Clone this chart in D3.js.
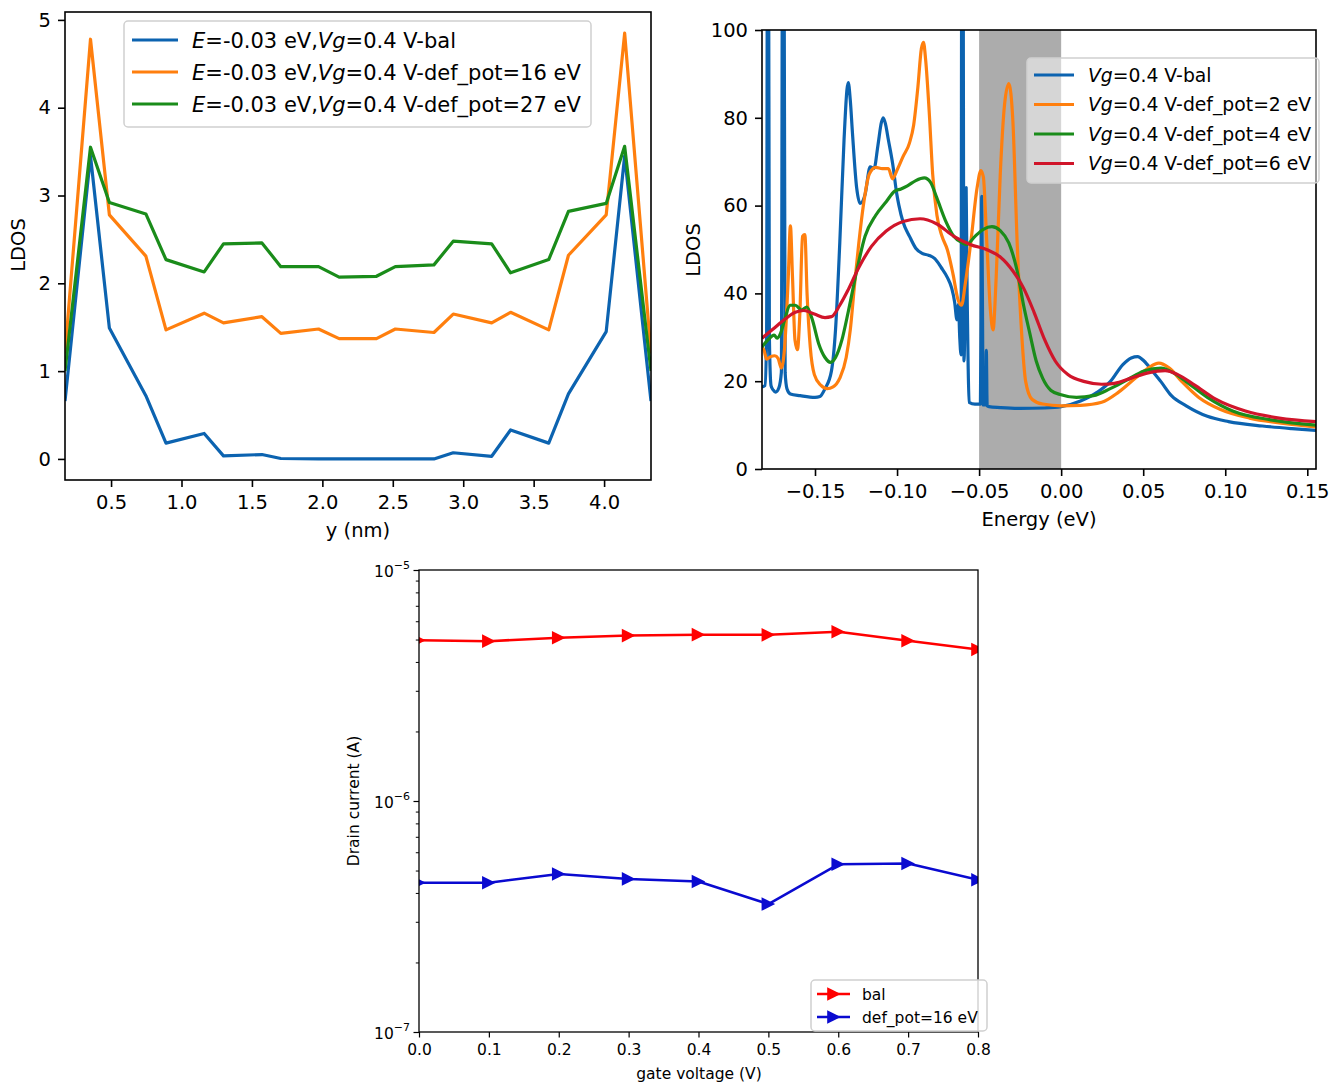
<!DOCTYPE html>
<html>
<head>
<meta charset="utf-8">
<script src="https://cdn.jsdelivr.net/npm/d3@7"></script>
<style>
  body { margin: 0; background: #fff; }
  svg text { font-family: "DejaVu Sans", sans-serif; fill: #000; }
</style>
</head>
<body>
<svg id="fig" width="1341" height="1084"></svg>
<script>
// ---- top left: LDOS across the ribbon width ----
var yPos = [0.173, 0.354, 0.488, 0.747, 0.890, 1.161, 1.298, 1.571, 1.705, 1.973, 2.119,
            2.384, 2.518, 2.792, 2.929, 3.202, 3.336, 3.607, 3.747, 4.015, 4.146, 4.333];
var ldosBal = [0.66, 3.45, 1.49, 0.72, 0.18, 0.29, 0.035, 0.05, 0.005, 0.0, 0.0,
               0.0, 0.0, 0.0, 0.07, 0.03, 0.33, 0.18, 0.74, 1.45, 3.45, 0.66];
var ldosDef16 = [1.2, 4.78, 2.78, 2.31, 1.47, 1.66, 1.55, 1.62, 1.43, 1.48, 1.37,
                 1.37, 1.48, 1.44, 1.65, 1.55, 1.67, 1.47, 2.32, 2.78, 4.85, 1.2];
var ldosDef27 = [1.0, 3.55, 2.92, 2.79, 2.27, 2.13, 2.45, 2.46, 2.19, 2.19, 2.07,
                 2.08, 2.19, 2.21, 2.48, 2.45, 2.12, 2.27, 2.82, 2.91, 3.56, 1.0];
var tlLabels = ['-0.03 eV,|0.4 V-bal', '-0.03 eV,|0.4 V-def_pot=16 eV', '-0.03 eV,|0.4 V-def_pot=27 eV'];
var tlXTicks = [0.5, 1.0, 1.5, 2.0, 2.5, 3.0, 3.5, 4.0];
var tlYTicks = [0, 1, 2, 3, 4, 5];

// ---- top right: LDOS vs energy, [E (eV), LDOS] ----
var specBal = [[-0.1823, 18.7], [-0.1805, 19.0], [-0.1795, 30], [-0.1789, 140], [-0.1784, 140],
  [-0.1778, 30], [-0.1768, 19], [-0.1755, 18.0], [-0.1740, 17.5], [-0.1720, 18.5], [-0.1705, 22],
  [-0.1697, 140], [-0.1690, 140], [-0.1682, 22], [-0.1671, 18.3], [-0.1650, 17.1], [-0.1590, 16.7],
  [-0.1500, 16.3], [-0.1470, 16.5], [-0.1439, 18.3], [-0.1400, 22.3], [-0.1375, 31.7], [-0.1349, 51.5],
  [-0.1323, 75], [-0.1305, 86.5], [-0.1297, 88], [-0.1285, 84], [-0.1272, 76.7], [-0.1246, 64],
  [-0.1225, 60.5], [-0.1195, 62.5], [-0.1164, 68.8], [-0.1140, 68.5], [-0.1117, 73.6], [-0.1095, 79],
  [-0.1084, 80], [-0.1070, 78.5], [-0.1053, 75], [-0.1027, 69.6], [-0.1001, 62.5], [-0.0989, 60.1],
  [-0.0963, 56.2], [-0.0924, 53], [-0.0886, 50.3], [-0.0847, 49.1], [-0.0808, 48.7], [-0.0770, 47.9],
  [-0.0731, 45.9], [-0.0693, 43.6], [-0.0667, 41.2], [-0.0649, 38], [-0.0635, 34], [-0.0626, 37.5],
  [-0.0618, 30], [-0.0610, 26], [-0.0605, 140], [-0.0599, 140], [-0.0592, 24.6], [-0.0585, 40],
  [-0.0579, 64.1], [-0.0573, 40], [-0.0567, 24], [-0.0561, 15.2], [-0.0525, 14.8], [-0.0492, 14.8],
  [-0.0487, 40], [-0.0484, 62.1], [-0.0480, 40], [-0.0475, 14.6], [-0.0461, 14.6], [-0.0456, 27],
  [-0.0451, 14.4], [-0.0440, 14.2], [-0.0371, 14.0], [-0.0250, 13.8], [-0.0100, 13.9], [0.0000, 14.2],
  [0.0118, 15.5], [0.0221, 17.5], [0.0299, 19.9], [0.0376, 23.8], [0.0427, 25.3], [0.0466, 25.6],
  [0.0505, 24.6], [0.0556, 22.3], [0.0608, 19.9], [0.0672, 16.7], [0.0762, 14.4], [0.0891, 12.0],
  [0.1020, 10.8], [0.1226, 9.8], [0.1406, 9.2], [0.1553, 8.8]];
var specDef2 = [[-0.1823, 27.8], [-0.1810, 27.0], [-0.1795, 25.0], [-0.1770, 25.6], [-0.1745, 25.8],
  [-0.1725, 25.2], [-0.1705, 23], [-0.1685, 27.8], [-0.1663, 43.6], [-0.1650, 55.4], [-0.1637, 43.6],
  [-0.1622, 29.4], [-0.1607, 27.2], [-0.1592, 35.7], [-0.1576, 53], [-0.1562, 53.4], [-0.1548, 39.6],
  [-0.1529, 27.8], [-0.1504, 21.5], [-0.1465, 19.1], [-0.1426, 18.3], [-0.1390, 18.7], [-0.1349, 20.7],
  [-0.1310, 25.4], [-0.1285, 31.7], [-0.1259, 42], [-0.1233, 51.5], [-0.1202, 60.9], [-0.1169, 67.2],
  [-0.1130, 68.7], [-0.1090, 68.4], [-0.1053, 68.4], [-0.1027, 66.1], [-0.1001, 68], [-0.0963, 71.2],
  [-0.0924, 74.3], [-0.0899, 78.3], [-0.0873, 87], [-0.0852, 95.7], [-0.0839, 97.2], [-0.0826, 93.3],
  [-0.0803, 80.7], [-0.0783, 67.2], [-0.0757, 57.8], [-0.0726, 53], [-0.0693, 49.9], [-0.0659, 44.4],
  [-0.0628, 38.5], [-0.0607, 37.3], [-0.0585, 42], [-0.0551, 51.5], [-0.0512, 64.1], [-0.0489, 68],
  [-0.0474, 66.5], [-0.0453, 51.5], [-0.0430, 35.7], [-0.0415, 31.7], [-0.0396, 43.6], [-0.0371, 67.2],
  [-0.0345, 83], [-0.0319, 87.8], [-0.0294, 79.1], [-0.0268, 51.5], [-0.0242, 31.7], [-0.0216, 19.9],
  [-0.0178, 15.9], [-0.0113, 14.8], [0.0000, 14.4], [0.0118, 14.5], [0.0247, 15.2], [0.0350, 17.5],
  [0.0453, 20.7], [0.0530, 23], [0.0595, 24.1], [0.0659, 23], [0.0736, 19.9], [0.0839, 16.3],
  [0.0968, 13.6], [0.1148, 11.6], [0.1354, 10.4], [0.1553, 9.6]];
var specDef4 = [[-0.1823, 27.8], [-0.1787, 29.4], [-0.1749, 30.5], [-0.1731, 29.8], [-0.1710, 30.9],
  [-0.1684, 34.1], [-0.1653, 37.3], [-0.1620, 37.3], [-0.1581, 36.2], [-0.1550, 36.9], [-0.1517, 34.1],
  [-0.1478, 28.6], [-0.1439, 25.4], [-0.1406, 24.3], [-0.1375, 25.4], [-0.1336, 29.4], [-0.1298, 35.7],
  [-0.1246, 45.1], [-0.1195, 53], [-0.1130, 57.8], [-0.1066, 60.9], [-0.1014, 63.3], [-0.0976, 63.8],
  [-0.0937, 64.5], [-0.0886, 65.7], [-0.0834, 66.3], [-0.0796, 65.3], [-0.0757, 61.7], [-0.0705, 56.6],
  [-0.0654, 53], [-0.0602, 51.5], [-0.0577, 51.1], [-0.0525, 53], [-0.0474, 54.6], [-0.0422, 55.2],
  [-0.0371, 54.3], [-0.0319, 51.5], [-0.0268, 45.1], [-0.0229, 37.3], [-0.0191, 30.9], [-0.0152, 24.6],
  [-0.0113, 20.7], [-0.0062, 17.9], [0.0000, 16.9], [0.0093, 16.3], [0.0196, 16.7], [0.0299, 18.3],
  [0.0402, 20.3], [0.0505, 22.3], [0.0608, 23.0], [0.0685, 21.9], [0.0762, 19.9], [0.0891, 16.3],
  [0.1045, 13.2], [0.1277, 11.2], [0.1553, 10.0]];
var specDef6 = [[-0.1823, 29.8], [-0.1761, 31.7], [-0.1684, 34.1], [-0.1620, 35.7], [-0.1568, 36.1],
  [-0.1504, 35.3], [-0.1439, 34.5], [-0.1400, 34.7], [-0.1349, 37.3], [-0.1298, 40.8], [-0.1233, 45.9],
  [-0.1156, 50.7], [-0.1066, 54.2], [-0.0963, 56.4], [-0.0860, 57.0], [-0.0757, 55.8], [-0.0654, 53.0],
  [-0.0551, 51.1], [-0.0448, 49.9], [-0.0371, 48.3], [-0.0294, 45.1], [-0.0229, 41.2], [-0.0165, 35.7],
  [-0.0100, 29.4], [-0.0036, 24.6], [0.0041, 21.5], [0.0144, 19.9], [0.0247, 19.3], [0.0324, 19.5],
  [0.0427, 20.7], [0.0530, 21.9], [0.0633, 22.4], [0.0711, 21.5], [0.0814, 19.1], [0.0942, 15.9],
  [0.1123, 13.2], [0.1329, 11.6], [0.1553, 10.8]];
var trLabels = ['0.4 V-bal', '0.4 V-def_pot=2 eV', '0.4 V-def_pot=4 eV', '0.4 V-def_pot=6 eV'];
var trBand = [-0.05, 0.0];
var trXTicks = [-0.15, -0.10, -0.05, 0.00, 0.05, 0.10, 0.15];
var trYTicks = [0, 20, 40, 60, 80, 100];

// ---- bottom: drain current vs gate voltage ----
var gateV = [0.0, 0.1, 0.2, 0.3, 0.4, 0.5, 0.6, 0.7, 0.8];
var idBal = [4.96e-6, 4.92e-6, 5.09e-6, 5.2e-6, 5.25e-6, 5.24e-6, 5.4e-6, 4.94e-6, 4.53e-6];
var idDef16 = [4.43e-7, 4.43e-7, 4.83e-7, 4.6e-7, 4.48e-7, 3.58e-7, 5.32e-7, 5.36e-7, 4.56e-7];
var botLabels = ['bal', 'def_pot=16 eV'];
var botXTicks = [0.0, 0.1, 0.2, 0.3, 0.4, 0.5, 0.6, 0.7, 0.8];
var botYTicks = [1e-7, 1e-6, 1e-5];

var fig = d3.select('#fig');
var FONT = '"DejaVu Sans", sans-serif';

function makeAxes(id, box, xDomain, yDomain, yLog) {
  var x = d3.scaleLinear().domain(xDomain).range([box.left, box.right]);
  var y = (yLog ? d3.scaleLog() : d3.scaleLinear()).domain(yDomain).range([box.bottom, box.top]);
  var g = fig.append('g').attr('id', id);
  g.append('clipPath').attr('id', id + '-clip').append('rect')
    .attr('x', box.left).attr('y', box.top)
    .attr('width', box.right - box.left).attr('height', box.bottom - box.top);
  var plot = g.append('g').attr('clip-path', 'url(#' + id + '-clip)');
  return { x: x, y: y, g: g, plot: plot, box: box };
}

function styleAxis(sel, size, width) {
  sel.select('.domain').remove();
  sel.attr('font-family', FONT);
  sel.selectAll('line').attr('stroke', '#000').attr('stroke-width', width);
  sel.selectAll('text').attr('font-size', size).attr('fill', '#000');
}

function frame(ax, width) {
  var b = ax.box;
  ax.g.append('rect').attr('x', b.left).attr('y', b.top)
    .attr('width', b.right - b.left).attr('height', b.bottom - b.top)
    .attr('fill', 'none').attr('stroke', '#000').attr('stroke-width', width);
}

function legendBox(g, x0, y0, w, h, alpha) {
  g.append('rect').attr('x', x0).attr('y', y0).attr('width', w).attr('height', h)
    .attr('rx', 4).attr('fill', '#fff').attr('fill-opacity', alpha)
    .attr('stroke', '#d0d0d0').attr('stroke-width', 1.5);
}

// ================= top left =================
var colTL = ['#0c63b0', '#ff7f0e', '#1a8c1a'];
var tl = makeAxes('tl', { left: 65, right: 651, top: 12, bottom: 480 }, [0.173, 4.333], [-0.24, 5.09]);
var lineTL = d3.line().x(function (d) { return tl.x(d[0]); }).y(function (d) { return tl.y(d[1]); });
[ldosBal, ldosDef16, ldosDef27].forEach(function (s, i) {
  tl.plot.append('path').datum(yPos.map(function (v, k) { return [v, s[k]]; }))
    .attr('d', lineTL).attr('fill', 'none').attr('stroke', colTL[i])
    .attr('stroke-width', 3.2).attr('stroke-linejoin', 'round');
});
frame(tl, 1.6);
tl.g.append('g').attr('transform', 'translate(0,' + tl.box.bottom + ')')
  .call(d3.axisBottom(tl.x).tickValues(tlXTicks).tickFormat(d3.format('.1f')).tickSize(7).tickPadding(8))
  .call(styleAxis, 19.5, 1.6);
tl.g.append('g').attr('transform', 'translate(' + tl.box.left + ',0)')
  .call(d3.axisLeft(tl.y).tickValues(tlYTicks).tickFormat(d3.format('d')).tickSize(7).tickPadding(7))
  .call(styleAxis, 19.5, 1.6);
tl.g.append('text').attr('x', 358).attr('y', 537).attr('text-anchor', 'middle')
  .attr('font-size', 19.5).text('y (nm)');
tl.g.append('text').attr('transform', 'translate(25,245) rotate(-90)').attr('text-anchor', 'middle')
  .attr('font-size', 19.5).text('LDOS');
// legend
var lgTL = tl.g.append('g');
legendBox(lgTL, 124, 21, 467, 106, 0.8);
tlLabels.forEach(function (lab, i) {
  var yy = 40 + i * 32;
  var parts = lab.split('|');
  lgTL.append('line').attr('x1', 132).attr('x2', 178).attr('y1', yy).attr('y2', yy)
    .attr('stroke', colTL[i]).attr('stroke-width', 3.2);
  var t = lgTL.append('text').attr('x', 192).attr('y', yy).attr('dy', '0.36em').attr('font-size', 21);
  t.append('tspan').attr('font-style', 'italic').text('E');
  t.append('tspan').text('=' + parts[0]);
  t.append('tspan').attr('font-style', 'italic').text('Vg');
  t.append('tspan').text('=' + parts[1]);
});

// ================= top right =================
var colTR = ['#0c63b0', '#ff7f0e', '#1a8c1a', '#d0152a'];
var tr = makeAxes('tr', { left: 762, right: 1316, top: 30, bottom: 469 }, [-0.1823, 0.1553], [0, 100]);
tr.plot.append('rect').attr('x', tr.x(trBand[0])).attr('y', tr.box.top)
  .attr('width', tr.x(trBand[1]) - tr.x(trBand[0])).attr('height', tr.box.bottom - tr.box.top)
  .attr('fill', '#acacac');
var lineTR = d3.line().curve(d3.curveMonotoneX)
  .x(function (d) { return tr.x(d[0]); }).y(function (d) { return tr.y(d[1]); });
[specBal, specDef2, specDef4, specDef6].forEach(function (s, i) {
  tr.plot.append('path').datum(s).attr('d', lineTR).attr('fill', 'none')
    .attr('stroke', colTR[i]).attr('stroke-width', 3.2).attr('stroke-linejoin', 'round');
});
frame(tr, 1.6);
tr.g.append('g').attr('transform', 'translate(0,' + tr.box.bottom + ')')
  .call(d3.axisBottom(tr.x).tickValues(trXTicks).tickFormat(d3.format('.2f')).tickSize(7).tickPadding(8))
  .call(styleAxis, 19.5, 1.6);
tr.g.append('g').attr('transform', 'translate(' + tr.box.left + ',0)')
  .call(d3.axisLeft(tr.y).tickValues(trYTicks).tickFormat(d3.format('d')).tickSize(7).tickPadding(7))
  .call(styleAxis, 19.5, 1.6);
tr.g.append('text').attr('x', 1039).attr('y', 526).attr('text-anchor', 'middle')
  .attr('font-size', 19.5).text('Energy (eV)');
tr.g.append('text').attr('transform', 'translate(700,250) rotate(-90)').attr('text-anchor', 'middle')
  .attr('font-size', 19.5).text('LDOS');
var lgTR = tr.g.append('g');
legendBox(lgTR, 1027, 58, 292, 125, 0.5);
trLabels.forEach(function (lab, i) {
  var yy = 75 + i * 29.5;
  lgTR.append('line').attr('x1', 1034).attr('x2', 1074).attr('y1', yy).attr('y2', yy)
    .attr('stroke', colTR[i]).attr('stroke-width', 3.2);
  var t = lgTR.append('text').attr('x', 1088).attr('y', yy).attr('dy', '0.36em').attr('font-size', 18.8);
  t.append('tspan').attr('font-style', 'italic').text('Vg');
  t.append('tspan').text('=' + lab);
});

// ================= bottom =================
var colBot = ['#ff0000', '#0a0ad0'];
var bot = makeAxes('bot', { left: 419, right: 978, top: 570, bottom: 1032 }, [0, 0.8], [1e-7, 1e-5], true);
var lineBot = d3.line().x(function (d) { return bot.x(d[0]); }).y(function (d) { return bot.y(d[1]); });
var tri = function (r) { return 'M' + r + ',0L' + (-r) + ',' + (-r) + 'L' + (-r) + ',' + r + 'Z'; };
[idBal, idDef16].forEach(function (s, i) {
  var pts = gateV.map(function (v, k) { return [v, s[k]]; });
  bot.plot.append('path').datum(pts).attr('d', lineBot).attr('fill', 'none')
    .attr('stroke', colBot[i]).attr('stroke-width', 2.5).attr('stroke-linejoin', 'round');
  bot.plot.selectAll('.m' + i).data(pts).enter().append('path')
    .attr('transform', function (d) { return 'translate(' + bot.x(d[0]) + ',' + bot.y(d[1]) + ')'; })
    .attr('d', tri(6.8)).attr('fill', colBot[i]);
});
frame(bot, 1.3);
bot.g.append('g').attr('transform', 'translate(0,' + bot.box.bottom + ')')
  .call(d3.axisBottom(bot.x).tickValues(botXTicks).tickFormat(d3.format('.1f')).tickSize(5.5).tickPadding(6))
  .call(styleAxis, 15.5, 1.2);
var minorTicks = bot.y.ticks().filter(function (v) { return botYTicks.indexOf(v) < 0; });
bot.g.append('g').attr('transform', 'translate(' + bot.box.left + ',0)')
  .call(d3.axisLeft(bot.y).tickValues(minorTicks).tickFormat('').tickSize(3.2))
  .call(styleAxis, 15.5, 1);
var yAxBot = bot.g.append('g').attr('transform', 'translate(' + bot.box.left + ',0)')
  .call(d3.axisLeft(bot.y).tickValues(botYTicks).tickFormat('').tickSize(5.5))
  .call(styleAxis, 15.5, 1.2);
yAxBot.selectAll('.tick').each(function (d) {
  var t = d3.select(this).append('text').attr('x', -9).attr('dy', '0.45em')
    .attr('text-anchor', 'end').attr('font-size', 15.5).attr('font-family', FONT).attr('fill', '#000');
  t.append('tspan').text('10');
  t.append('tspan').attr('font-size', 11).attr('dy', '-0.75em')
    .text('\u2212' + Math.round(-Math.log10(d)));
});
bot.g.append('text').attr('x', 699).attr('y', 1079).attr('text-anchor', 'middle')
  .attr('font-size', 15.5).text('gate voltage (V)');
bot.g.append('text').attr('transform', 'translate(359,801) rotate(-90)').attr('text-anchor', 'middle')
  .attr('font-size', 15.5).text('Drain current (A)');
var lgBot = bot.g.append('g');
legendBox(lgBot, 811, 980, 176, 51, 0.8);
botLabels.forEach(function (lab, i) {
  var yy = 994 + i * 23;
  lgBot.append('line').attr('x1', 817).attr('x2', 850).attr('y1', yy).attr('y2', yy)
    .attr('stroke', colBot[i]).attr('stroke-width', 2.5);
  lgBot.append('path').attr('transform', 'translate(834,' + yy + ')').attr('d', tri(6.8)).attr('fill', colBot[i]);
  lgBot.append('text').attr('x', 862).attr('y', yy).attr('dy', '0.36em').attr('font-size', 15.5).text(lab);
});
</script>
</body>
</html>
